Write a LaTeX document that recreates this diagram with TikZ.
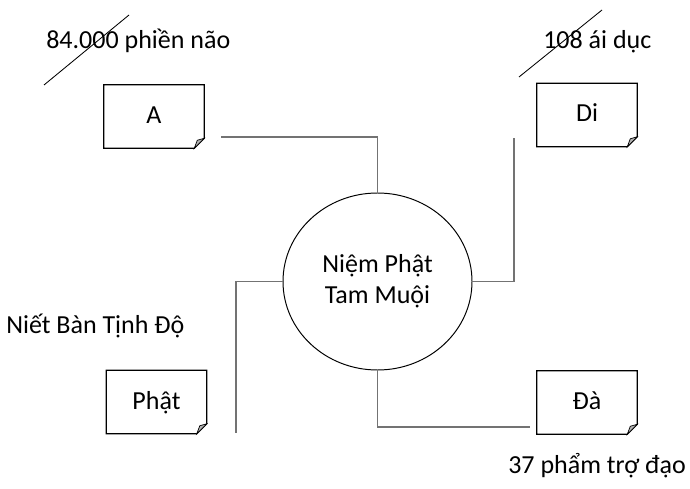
\documentclass[tikz,border=0pt]{standalone}
\usepackage{fontspec}
\setmainfont{Carlito}
\usetikzlibrary{shapes.geometric}
\colorlet{lineGray}{black!55}
\colorlet{foldGray}{black!30}
\tikzset{
	paper/.style={shape=rectangle, minimum width=2.5cm, minimum height=1.575cm, inner sep=0pt, text height=0.35cm, text depth=0cm},
	link/.style={draw=lineGray, line width=1.1pt},
}

\begin{document}
\begin{tikzpicture}[font=\fontsize{18.5}{22}\selectfont]
	\useasboundingbox (0, 0) rectangle (17.25, 12.2);

    % --- Kreis in der Mitte ---
	\node[shape=ellipse, draw, line width=0.7pt, minimum width=4.725cm, minimum height=4.425cm, align=center] (npt) at (9.4375, 5.1625){Niệm Phật\\Tam Muội};

    % --- Notizblätter mit umgeknickter Ecke ---
	\node[paper] (a) at (3.85, 9.2875){A};
	\node[paper] (di) at (14.675, 9.325){Di};
	\node[paper] (phat) at (3.9125, 2.15){Phật};
	\node[paper] (da) at (14.675, 2.1375){Đà};
	\foreach \b in {a, di, phat, da} {
		\draw[line width=0.8pt] (\b.north west) -- (\b.north east) -- ([yshift=0.25cm]\b.south east) -- ([xshift=-0.25cm]\b.south east) -- (\b.south west) -- cycle;
		\filldraw[fill=foldGray, line width=0.5pt] ([yshift=0.25cm]\b.south east) -- ([xshift=-0.175cm, yshift=0.2cm]\b.south east) -- ([xshift=-0.25cm]\b.south east) -- cycle;
	}

    % --- Verbindungen (grau) ---
	\coordinate (aEnd) at (5.525, 8.775);
	\coordinate (diEnd) at (12.85, 8.75);
	\coordinate (phatEnd) at (5.9, 1.375);
	\coordinate (daEnd) at (13.25, 1.525);
	\draw[link] (aEnd) -| (npt.north);
	\draw[link] (npt.east) -| (diEnd);
	\draw[link] (npt.west) -| (phatEnd);
	\draw[link] (npt.south) |- (daEnd);

    % --- Beschriftungen ---
	\node[anchor=base west, inner sep=0pt] (klesha) at (1.15, 10.975){84.000 phiền não};
	\node[anchor=base west, inner sep=0pt] (aiduc) at (13.575, 10.975){108 ái dục};
	\node[anchor=base west, inner sep=0pt] (nietban) at (0.15, 3.875){Niết Bàn Tịnh Độ};
	\node[anchor=base west, inner sep=0pt] (trodao) at (12.7, 0.375){37 phẩm trợ đạo};

    % --- Durchstreichungen ---
	\draw[line width=0.6pt] (1.1, 10.075) -- (3.225, 11.825);
	\draw[line width=0.6pt] (12.975, 10.275) -- (15.05, 11.95);

\end{tikzpicture}
\end{document}
